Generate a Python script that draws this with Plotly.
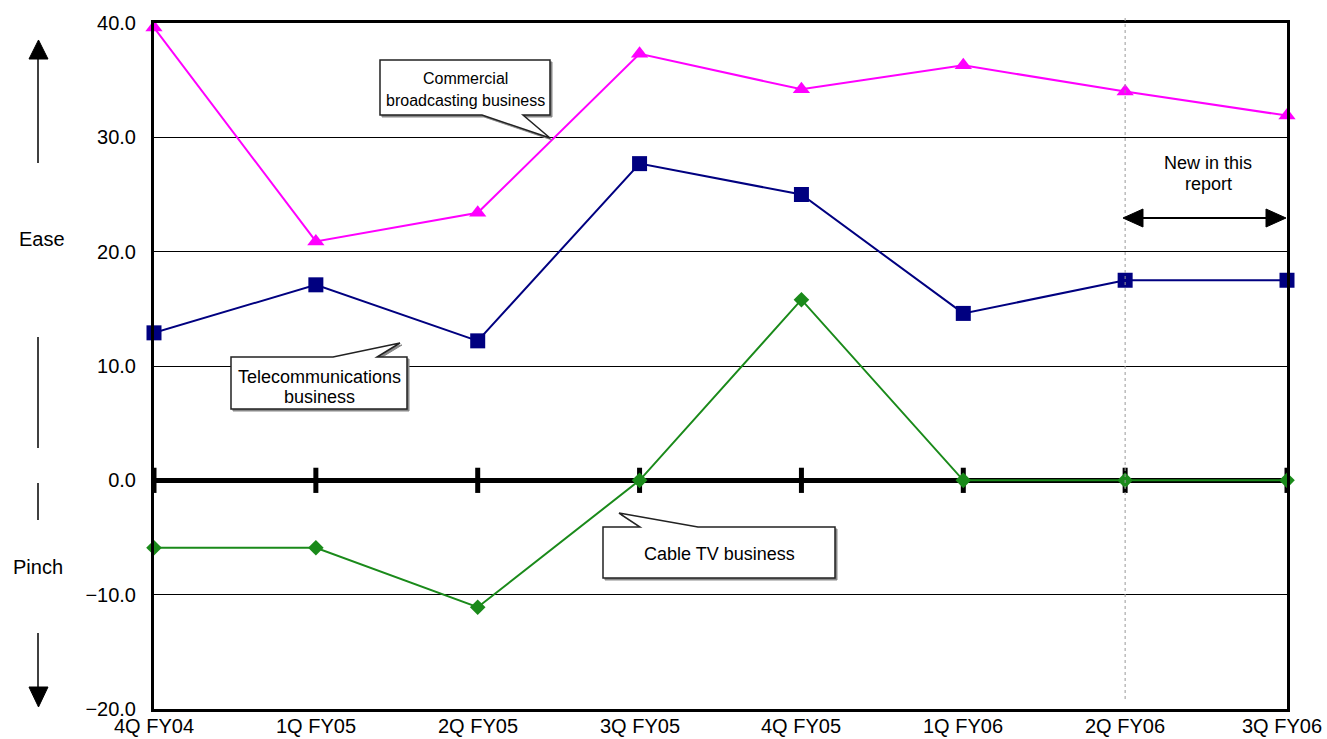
import plotly.graph_objects as go

# ---- data ----
quarters = ["4Q FY04", "1Q FY05", "2Q FY05", "3Q FY05", "4Q FY05", "1Q FY06", "2Q FY06", "3Q FY06"]
commercial = [39.6, 20.9, 23.4, 37.3, 34.2, 36.3, 34.0, 31.9]
telecom = [12.9, 17.1, 12.2, 27.7, 25.0, 14.6, 17.5, 17.5]
cable = [-5.9, -5.9, -11.1, 0.0, 15.8, 0.0, 0.0, 0.0]
y_ticks = [40, 30, 20, 10, 0, -10, -20]
y_tick_labels = ["40.0", "30.0", "20.0", "10.0", "0.0", "\u221210.0", "\u221220.0"]

W, H = 1327, 739
L, R, T, B = 154, 1287, 23, 709
FONT = "Liberation Sans, Arial, sans-serif"

def px(x):
    return (x - L) / (R - L)

def py(y):
    return (B - y) / (B - T)

def path(pts, dx=0, dy=0):
    s = "M " + " L ".join(f"{px(x+dx):.5f},{py(y+dy):.5f}" for x, y in pts) + " Z"
    return s

def text(x, y, t, size):
    return dict(xref="paper", yref="paper", x=px(x), y=py(y), text=t,
                showarrow=False, xanchor="center", yanchor="middle",
                font=dict(family=FONT, size=size, color="black"))

xs = list(range(len(quarters)))

fig = go.Figure()

# zero-line tick marks
fig.add_trace(go.Scatter(
    x=xs, y=[0] * len(xs), mode="markers",
    marker=dict(symbol="line-ns", size=18, line=dict(width=5, color="black")),
    hoverinfo="skip", cliponaxis=False, showlegend=False))

fig.add_trace(go.Scatter(
    x=xs, y=cable, mode="lines+markers", name="Cable TV business",
    line=dict(color="#1a8a1a", width=2),
    marker=dict(symbol="diamond", size=12, color="#1a8a1a"),
    cliponaxis=False, showlegend=False))
fig.add_trace(go.Scatter(
    x=xs, y=telecom, mode="lines+markers", name="Telecommunications business",
    line=dict(color="#000080", width=2),
    marker=dict(symbol="square", size=15, color="#000080"),
    cliponaxis=False, showlegend=False))
fig.add_trace(go.Scatter(
    x=xs, y=commercial, mode="lines+markers", name="Commercial broadcasting business",
    line=dict(color="#ff00ff", width=2),
    marker=dict(symbol="triangle-up", size=15, color="#ff00ff"),
    cliponaxis=False, showlegend=False))

shapes = []
annotations = []

# x category labels (as annotations so the edge labels are all kept)
for xi, q in zip(xs, quarters):
    last = xi == xs[-1]
    annotations.append(dict(xref="x", yref="paper", x=xi, y=py(713), text=q,
                            showarrow=False, xanchor="right" if last else "center",
                            xshift=37 if last else 0, yanchor="top",
                            font=dict(family=FONT, size=20, color="black")))

# dotted vertical separator at 2Q FY06
shapes.append(dict(type="line", xref="x", yref="paper", x0=6, x1=6,
                   y0=py(18), y1=py(700), line=dict(color="#999999", width=1, dash="dot"),
                   layer="above"))

# callouts
callouts = [
    ([(380, 60), (550, 60), (550, 115), (523, 115), (550, 138), (482, 115), (380, 115)],
     ["Commercial", "broadcasting business"], 465, [79, 100], 16),
    ([(231, 357), (333, 357), (400, 343), (377, 357), (407, 357), (407, 409), (231, 409)],
     ["Telecommunications", "business"], 319, [377, 397], 18),
    ([(603, 527), (640, 527), (619, 513), (698, 527), (835, 527), (835, 578), (603, 578)],
     ["Cable TV business"], 719, [554], 18),
]
for pts, lines, cx, cys, fs in callouts:
    shapes.append(dict(type="path", xref="paper", yref="paper", path=path(pts, 2, 2),
                       fillcolor="#888888", line=dict(color="#888888", width=1)))
    shapes.append(dict(type="path", xref="paper", yref="paper", path=path(pts),
                       fillcolor="white", line=dict(color="#222222", width=1.5)))
    for txt, cy in zip(lines, cys):
        annotations.append(text(cx, cy, txt, fs))

# "New in this report"
annotations.append(text(1208, 163, "New in this", 18))
annotations.append(text(1208, 184, "report", 18))
shapes.append(dict(type="line", xref="paper", yref="paper", x0=px(1140), x1=px(1268),
                   y0=py(218), y1=py(218), line=dict(color="black", width=2)))
shapes.append(dict(type="path", xref="paper", yref="paper",
                   path=path([(1123, 218), (1143, 209), (1143, 227)]),
                   fillcolor="black", line=dict(color="black", width=1)))
shapes.append(dict(type="path", xref="paper", yref="paper",
                   path=path([(1286, 218), (1266, 209), (1266, 227)]),
                   fillcolor="black", line=dict(color="black", width=1)))

# left side Ease / Pinch arrows
for y0, y1 in [(58, 163), (337, 448), (483, 520), (633, 690)]:
    shapes.append(dict(type="line", xref="paper", yref="paper", x0=px(38), x1=px(38),
                       y0=py(y0), y1=py(y1), line=dict(color="black", width=1.5)))
shapes.append(dict(type="path", xref="paper", yref="paper",
                   path=path([(29, 59), (48, 59), (38.5, 40)]),
                   fillcolor="black", line=dict(color="black", width=1)))
shapes.append(dict(type="path", xref="paper", yref="paper",
                   path=path([(29, 687), (48, 687), (38.5, 707)]),
                   fillcolor="black", line=dict(color="black", width=1)))
annotations.append(text(42, 239, "Ease", 20))
annotations.append(text(38, 567, "Pinch", 20))

fig.update_layout(
    width=W, height=H,
    margin=dict(l=L, r=W - R, t=T, b=H - B, pad=0, autoexpand=False),
    paper_bgcolor="white", plot_bgcolor="white",
    shapes=shapes, annotations=annotations,
    showlegend=False,
    xaxis=dict(range=[0, 7], tickvals=xs, showticklabels=False, showgrid=False, zeroline=False,
               showline=True, linecolor="black", linewidth=3, mirror=True, automargin=False,
               ticks=""),
    yaxis=dict(range=[-20, 40], tickvals=y_ticks, ticktext=y_tick_labels,
               showgrid=True, gridcolor="black", gridwidth=1, automargin=False,
               zeroline=True, zerolinecolor="black", zerolinewidth=5,
               showline=True, linecolor="black", linewidth=3, mirror=True,
               ticks="", ticklabelstandoff=11,
               tickfont=dict(family=FONT, size=20, color="black")),
)

fig.write_html("out.html")
